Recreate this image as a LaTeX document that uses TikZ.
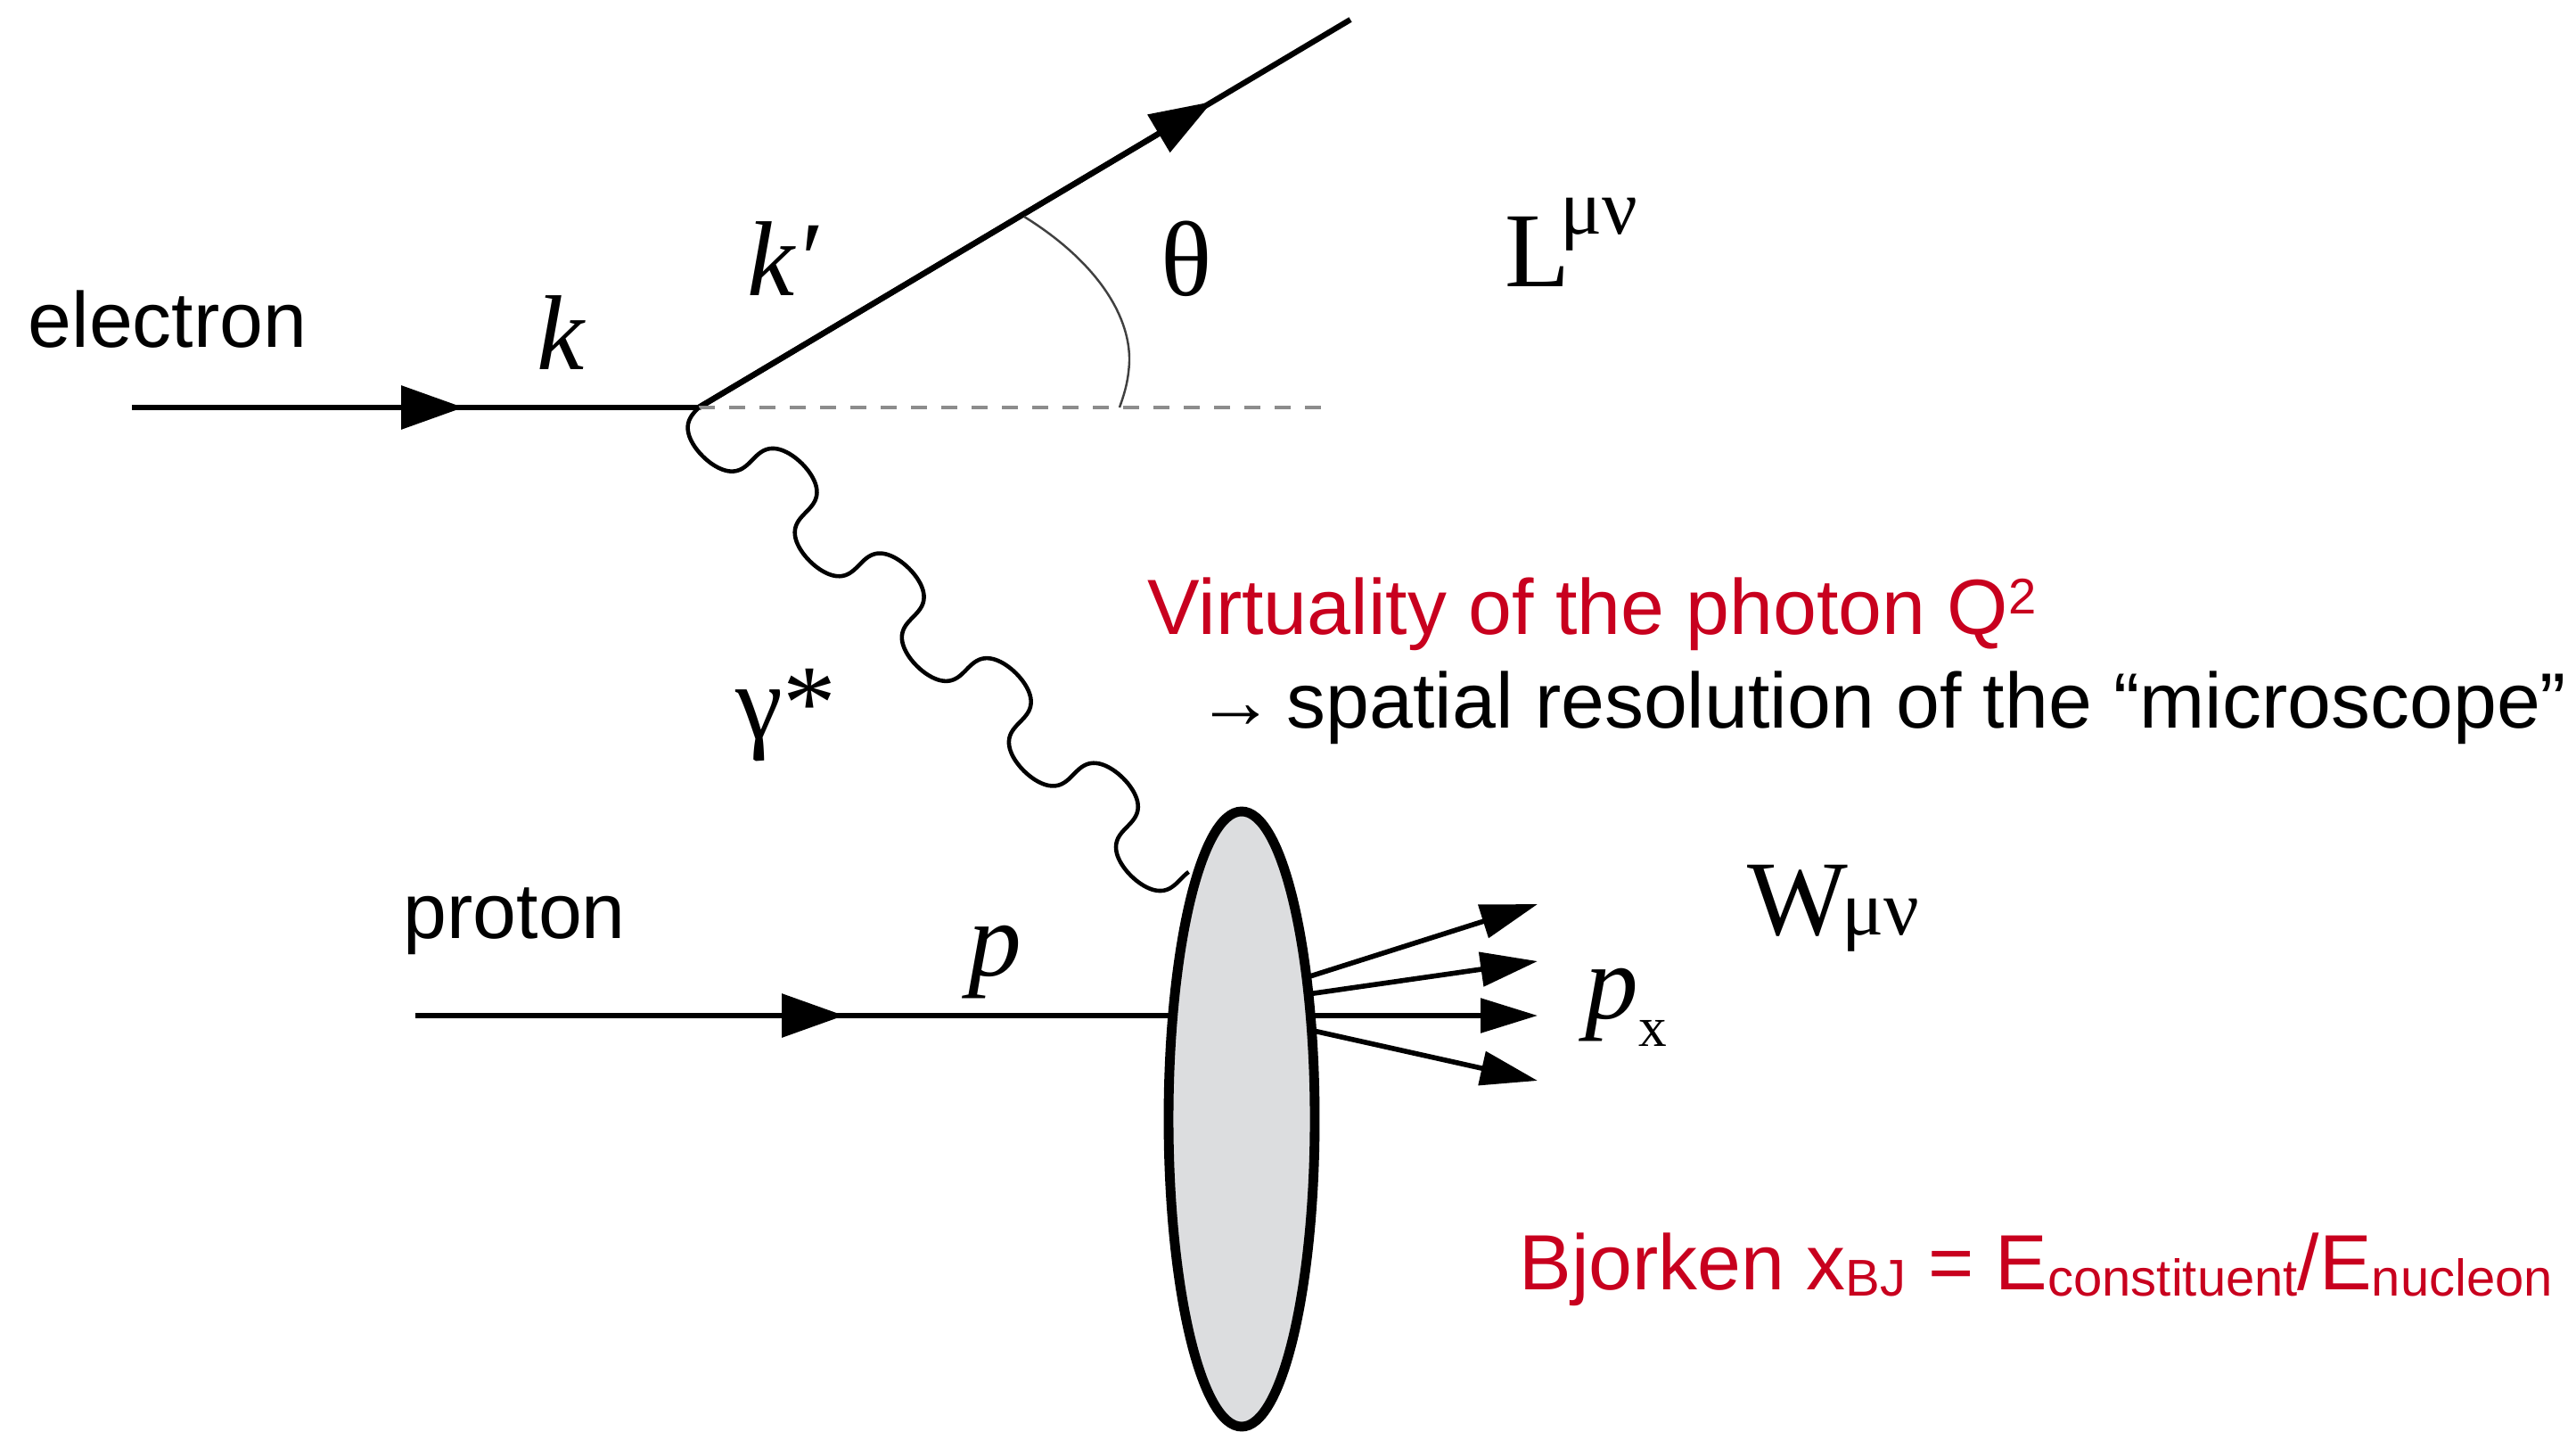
\documentclass[tikz,border=0pt]{standalone}
\usepackage{fontspec}
\setmainfont{Liberation Sans}
\newfontfamily\tms{Liberation Serif}
\usetikzlibrary{arrows.meta,shapes.geometric}
\definecolor{redtxt}{RGB}{200,0,30}
\definecolor{blobgray}{RGB}{220,221,223}
\definecolor{dashgray}{RGB}{140,140,140}
\begin{document}
\begin{tikzpicture}[
  lbl/.style={font=\fontsize{25}{30}\selectfont, inner sep=0pt},
  sym/.style={font=\tms\fontsize{34}{40}\selectfont, inner sep=0pt},
  fermion/.style={line width=1.8pt},
  tipA/.style={-{Triangle[length=0.70cm,width=0.48cm]}},
  tipB/.style={-{Triangle[length=0.64cm,width=0.38cm]}},
  hadron/.style={line width=1.6pt},
  dashline/.style={draw=dashgray, line width=1.3pt, dash pattern=on 0.18cm off 0.16cm},
  anglearc/.style={draw=black!75, line width=0.7pt},
  photon/.style={line width=1.3pt},
  blobstyle/.style={ellipse, draw, line width=3.1pt, fill=blobgray, inner sep=0pt,
                    minimum width=1.64cm, minimum height=6.9cm}
]
\useasboundingbox (0,0) rectangle (28.90,-16.06);

% coordinates
\coordinate (ein) at (1.48,-4.57);
\coordinate (v1) at (7.84,-4.57);
\coordinate (etip) at (5.20,-4.57);
\coordinate (eout) at (15.15,-0.22);
\coordinate (eouttip) at (13.60,-1.14);
\coordinate (dashend) at (14.93,-4.57);
\coordinate (pin) at (4.66,-11.39);
\coordinate (ptip) at (9.47,-11.39);
\coordinate (v2) at (13.50,-11.39);
\coordinate (a1) at (11.49,-2.43);
\coordinate (a2) at (12.67,-4.05);
\coordinate (a3) at (12.56,-4.57);
\coordinate (h1s) at (14.60,-10.98);
\coordinate (h2s) at (14.60,-11.16);
\coordinate (h3s) at (14.60,-11.39);
\coordinate (h4s) at (14.60,-11.53);
\coordinate (h1t) at (17.25,-10.14);
\coordinate (h2t) at (17.25,-10.78);
\coordinate (h3t) at (17.25,-11.39);
\coordinate (h4t) at (17.25,-12.12);

% electron lines
\draw[fermion] (ein) -- (v1);
\draw[fermion, tipA] (ein) -- (etip);
\draw[fermion] (v1) -- (eout);
\draw[fermion, tipA] (v1) -- (eouttip);
\draw[dashline] (v1) -- (dashend);
\draw[anglearc] (a1) .. controls (12.25,-2.90) and (12.68,-3.50) .. (a2)
                     .. controls (12.66,-4.30) and (12.60,-4.45) .. (a3);

% photon
\begin{scope}[shift={(v1)}, rotate=-44.4]
\draw[photon] plot[variable=\t, domain=0:1640, samples=420, smooth]
  ({1.683/360*(\t - 0.5*57.2958*sin(2*\t))}, {-0.36*sin(\t)});
\end{scope}

% proton line
\draw[fermion] (pin) -- (v2);
\draw[fermion, tipA] (pin) -- (ptip);

% hadrons
\draw[hadron, tipB] (h1s) -- (h1t);
\draw[hadron, tipB] (h2s) -- (h2t);
\draw[hadron, tipB] (h3s) -- (h3t);
\draw[hadron, tipB] (h4s) -- (h4t);

% blob
\node[blobstyle] (blob) at (13.93,-12.55) {};

% symbol labels
\node[sym, anchor=base] (klbl) at (6.29,-4.15) {\itshape k};
\node[sym, anchor=base west] (kplbl) at (8.38,-3.32) {\itshape k′};
\node[sym, anchor=base] (thlbl) at (13.31,-3.32) {θ};
\node[sym, anchor=base west] (llbl) at (16.88,-3.22) {L\kern-0.11cm\raisebox{0.59cm}{\fontsize{25}{25}\selectfont μν}};
\node[sym, anchor=base west] (wlbl) at (19.60,-10.48) {W\kern-0.07cm{\fontsize{25}{25}\selectfont μν}};
\node[sym, anchor=base west] (pxlbl) at (17.78,-11.42) {{\itshape p}\raisebox{-0.31cm}{\fontsize{18}{18}\selectfont x}};
\node[sym, anchor=base west] (glbl) at (8.25,-8.28) {γ*};
\node[sym, anchor=base] (plbl) at (11.16,-10.94) {\itshape p};

% text labels
\node[lbl, anchor=base west] (electron) at (0.31,-3.90) {electron};
\node[lbl, anchor=base west] (proton) at (4.52,-10.52) {proton};
\node[lbl, text=redtxt, anchor=base west] (virt) at (12.87,-7.12)
  {Virtuality of the photon Q\raisebox{0.23cm}{\fontsize{16}{16}\selectfont 2}};
\node[lbl, anchor=base west] (res) at (13.42,-8.17)
  {\makebox[1.01cm][l]{→}spatial resolution of the “microscope”};
\node[lbl, text=redtxt, anchor=base west] (bj) at (17.04,-14.46)
  {Bjorken x\raisebox{-0.07cm}{\fontsize{16.5}{16.5}\selectfont BJ} = E\raisebox{-0.07cm}{\fontsize{16.5}{16.5}\selectfont constituent}/E\raisebox{-0.07cm}{\fontsize{16.5}{16.5}\selectfont nucleon}};
\end{tikzpicture}
\end{document}
